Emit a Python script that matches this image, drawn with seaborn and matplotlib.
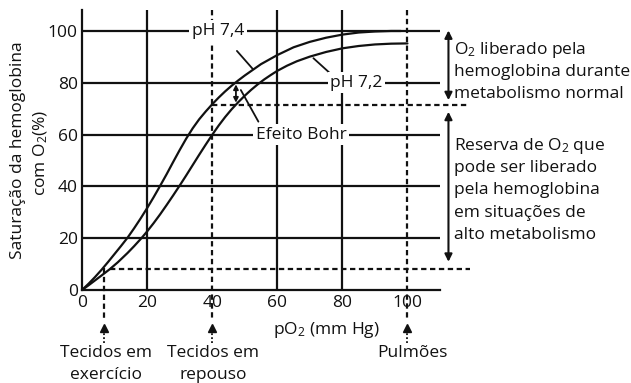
import numpy as np
import pandas as pd
import matplotlib
matplotlib.use('Agg')
import matplotlib.pyplot as plt
import seaborn as sns

# curve values (pO2 in mm Hg, saturation in %)
po2_74 = [0, 2, 4, 6, 8, 10, 12, 14, 16, 18, 20, 22, 24, 26, 28, 30, 32, 34, 36, 38, 40,
          42, 44, 46, 48, 50, 52.5, 55, 60, 65, 70, 75, 80, 85, 90, 95, 98]
sat_74 = [0, 2.4, 5.0, 7.8, 10.8, 13.9, 17.0, 20.2, 23.8, 27.6, 31.6, 35.8, 40.2, 44.7, 49.4, 54.0, 58.4, 62.4, 65.9, 68.9, 71.7,
          74.3, 76.7, 78.9, 80.9, 82.8, 85.0, 87.2, 90.7, 93.7, 95.8, 97.4, 98.6, 99.4, 99.8, 100, 100]
po2_72 = [0, 2, 4, 6, 8.5, 11, 14, 16, 18.4, 20, 22, 24, 26, 28, 30, 32, 34, 36, 38, 40,
          42, 44, 46, 48, 50, 52, 54, 56, 58, 60, 63, 66, 70, 75, 80, 85, 90, 95, 100]
sat_72 = [0, 1.8, 3.7, 5.6, 8.0, 10.7, 14.3, 16.9, 20.2, 22.6, 25.8, 29.2, 32.8, 36.5, 40.3, 44.2, 48.2, 52.2, 56.1, 59.9,
          63.5, 66.8, 69.8, 72.5, 75.0, 77.3, 79.4, 81.3, 83.0, 84.6, 86.6, 88.3, 90.1, 91.9, 93.3, 94.2, 94.8, 95.1, 95.2]

x_ticks = [0, 20, 40, 60, 80, 100]
y_ticks = [0, 20, 40, 60, 80, 100]
solid_vlines = [20, 60, 80]
dashed_vlines = [40, 100]

curves = pd.concat([
    pd.DataFrame({'po2': po2_74, 'sat': sat_74, 'ph': 'pH 7,4'}),
    pd.DataFrame({'po2': po2_72, 'sat': sat_72, 'ph': 'pH 7,2'}),
])

sns.set_theme(style='white')
plt.rcParams['font.family'] = ['Open Sans', 'DejaVu Sans']
plt.rcParams['mathtext.fontset'] = 'custom'
plt.rcParams['mathtext.rm'] = 'Open Sans'
plt.rcParams['mathtext.it'] = 'Open Sans'

ink = '#111111'
fs = 12.5
lw = 1.6

fig = plt.figure(figsize=(6.31, 3.83), dpi=100)
ax = fig.add_axes([82 / 631, 93 / 383, 358 / 631, 280 / 383])
ax.set_xlim(0, 110)
ax.set_ylim(0, 108.1)

# grid
for y in y_ticks[1:]:
    ax.plot([0, 110], [y, y], color=ink, lw=lw, zorder=1)
for x in solid_vlines:
    ax.plot([x, x], [0, 108.1], color=ink, lw=lw, zorder=1)
dash = (2.4, 1.6)
for x in dashed_vlines:
    ax.plot([x, x], [108.1, -11.6], color=ink, lw=lw, dashes=dash, clip_on=False, zorder=1)
ax.plot([6.8, 6.8], [8.5, -11.6], color=ink, lw=lw, dashes=dash, clip_on=False, zorder=1)
ax.plot([40, 118.8], [71.6, 71.6], color=ink, lw=lw, dashes=dash, clip_on=False, zorder=1)
ax.plot([8.5, 119.2], [8, 8], color=ink, lw=lw, dashes=dash, clip_on=False, zorder=1)

sns.lineplot(data=curves, x='po2', y='sat', hue='ph', palette={'pH 7,4': ink, 'pH 7,2': ink},
             lw=lw, legend=False, ax=ax, zorder=3)

# markers below the axis
for x in [6.8, 40, 100]:
    ax.plot([x, x], [-20.5, -15.5], color=ink, lw=1.3, ls=(0, (1, 1.2)), clip_on=False)
    ax.plot(x, -14.6, marker='^', ms=5.5, color=ink, clip_on=False)

# leader lines
ax.plot([47.6, 52.5], [92.3, 85.3], color=ink, lw=1.3, zorder=3)
ax.plot([71.1, 76.2], [89.5, 83.7], color=ink, lw=1.3, zorder=3)
ax.plot([48.8, 54.2], [77.2, 65.0], color=ink, lw=1.3, zorder=3)

box = dict(boxstyle='square,pad=0.15', fc='white', ec='none')
ax.text(41.8, 100, 'pH 7,4', fontsize=fs, color=ink, ha='center', va='center', bbox=box, zorder=6)
ax.text(84.4, 80, 'pH 7,2', fontsize=fs, color=ink, ha='center', va='center', bbox=box, zorder=6)
ax.text(67.4, 60, 'Efeito Bohr', fontsize=fs, color=ink, ha='center', va='center', bbox=box, zorder=6)

arrow = dict(arrowstyle='<|-|>', color=ink, lw=1.5, mutation_scale=11, shrinkA=0, shrinkB=0)
ax.annotate('', xy=(112.6, 100.2), xytext=(112.6, 73.3), arrowprops=arrow, annotation_clip=False)
ax.annotate('', xy=(112.6, 68.8), xytext=(112.6, 10.9), arrowprops=arrow, annotation_clip=False)
ax.annotate('', xy=(47.3, 79.4), xytext=(47.3, 72.3),
            arrowprops=dict(arrowstyle='<|-|>', color=ink, lw=1.3, mutation_scale=7, shrinkA=0, shrinkB=0))

top_lines = ['O$_2$ liberado pela', 'hemoglobina durante', 'metabolismo normal']
for i, s in enumerate(top_lines):
    ax.text(114.3, 91.0 - i * 8.5, s, fontsize=fs, color=ink, ha='left', va='baseline', clip_on=False)
low_lines = ['Reserva de O$_2$ que', 'pode ser liberado', 'pela hemoglobina', 'em situações de', 'alto metabolismo']
for i, s in enumerate(low_lines):
    ax.text(114.3, 54.1 - i * 8.6, s, fontsize=fs, color=ink, ha='left', va='baseline', clip_on=False)

# bottom labels (baselines)
ax.text(7.4, -25.9, 'Tecidos em', fontsize=fs, color=ink, ha='center', va='baseline', clip_on=False)
ax.text(7.4, -34.4, 'exercício', fontsize=fs, color=ink, ha='center', va='baseline', clip_on=False)
ax.text(40.3, -25.9, 'Tecidos em', fontsize=fs, color=ink, ha='center', va='baseline', clip_on=False)
ax.text(40.3, -34.4, 'repouso', fontsize=fs, color=ink, ha='center', va='baseline', clip_on=False)
ax.text(101.5, -25.9, 'Pulmões', fontsize=fs, color=ink, ha='center', va='baseline', clip_on=False)

ax.text(75.2, -15.4, 'pO$_2$ (mm Hg)', fontsize=fs, color=ink, ha='center', va='center', clip_on=False)
ax.text(-19.8, 54, 'Saturação da hemoglobina', fontsize=fs, color=ink, rotation=90,
        ha='center', va='center', clip_on=False)
ax.text(-12.6, 53, 'com O$_2$(%)', fontsize=fs, color=ink, rotation=90,
        ha='center', va='center', clip_on=False)

ax.set_xticks(x_ticks)
ax.set_yticks(y_ticks)
ax.tick_params(axis='both', length=0, labelsize=fs, colors=ink)
ax.tick_params(axis='x', pad=3.5)
ax.tick_params(axis='y', pad=3)
ax.set_xlabel('')
ax.set_ylabel('')
for side in ['top', 'right']:
    ax.spines[side].set_visible(False)
for side in ['left', 'bottom']:
    ax.spines[side].set_color(ink)
    ax.spines[side].set_linewidth(lw)

fig.savefig('out.png', dpi=100, facecolor='white')
